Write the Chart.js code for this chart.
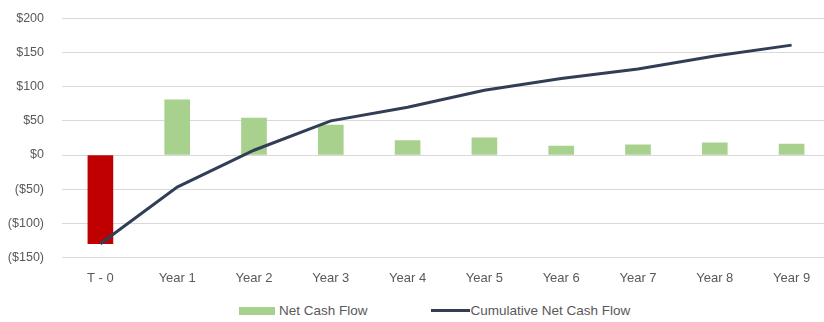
<!DOCTYPE html>
<html>
<head>
<meta charset="utf-8">
<script src="https://cdn.jsdelivr.net/npm/chart.js@4/dist/chart.umd.min.js"></script>
<style>
    html, body {
        margin: 0;
        padding: 0;
        background: #ffffff;
        overflow: hidden;
    }
    #wrap {
        position: relative;
        width: 832px;
        height: 322px;
        overflow: hidden;
    }
    #chart-box {
        position: absolute;
        left: 0;
        top: -7px;
        width: 832px;
        height: 298px;
    }
    #legend {
        position: absolute;
        left: 239px;
        top: 303px;
        display: flex;
        align-items: center;
        font-family: 'Liberation Sans', Arial, sans-serif;
        font-size: 13.5px;
        color: #595959;
        white-space: nowrap;
    }
    .legend-item {
        display: flex;
        align-items: center;
    }
    .legend-swatch {
        display: inline-block;
    }
</style>
</head>
<body>
<div id="wrap">
    <div id="chart-box"><canvas id="cash-chart"></canvas></div>
    <div id="legend"></div>
</div>
<script>
// Periods along the x axis
const periods = ['T - 0', 'Year 1', 'Year 2', 'Year 3', 'Year 4', 'Year 5', 'Year 6', 'Year 7', 'Year 8', 'Year 9'];

// Net cash flow per period ($)
const netCashFlow = [-130, 81, 54, 44, 21, 25, 13, 15, 18, 16];

// Running total ($)
const cumulativeCashFlow = [-130, -47, 7, 50, 70, 95, 112, 126, 145, 161];

// Y axis range
const yMin = -150;
const yMax = 200;
const yStep = 50;

const GREEN = '#a9d18e';
const RED = '#c00000';
const NAVY = '#323e55';
const TEXT_GRAY = '#595959';
const FONT = "'Liberation Sans', Arial, sans-serif";

function formatMoney(value) {
    if (value < 0) return '($' + Math.abs(value) + ')';
    return '$' + value;
}

const ctx = document.getElementById('cash-chart');
const cashChart = new Chart(ctx, {
    type: 'bar',
    data: {
        labels: periods,
        datasets: [
            {
                type: 'line',
                label: 'Cumulative Net Cash Flow',
                data: cumulativeCashFlow,
                borderColor: NAVY,
                backgroundColor: NAVY,
                borderWidth: 3,
                pointRadius: 0,
                tension: 0,
                fill: false,
                order: 0
            },
            {
                label: 'Net Cash Flow',
                data: netCashFlow,
                backgroundColor: netCashFlow.map(v => v < 0 ? RED : GREEN),
                borderWidth: 0,
                barThickness: 25,
                order: 1
            }
        ]
    },
    options: {
        responsive: true,
        maintainAspectRatio: false,
        animation: false,
        layout: {
            padding: { top: 11, right: 2, bottom: 0, left: 0 }
        },
        plugins: {
            legend: { display: false },
            tooltip: { enabled: false }
        },
        scales: {
            x: {
                grid: { display: false },
                border: { display: false },
                ticks: {
                    color: TEXT_GRAY,
                    padding: 5,
                    maxRotation: 0,
                    font: { family: FONT, size: 13 }
                }
            },
            y: {
                min: yMin,
                max: yMax,
                afterFit: function(scale) {
                    scale.width = 62;
                },
                grid: {
                    color: '#d9d9d9',
                    lineWidth: 1,
                    drawTicks: false
                },
                border: { display: false },
                ticks: {
                    stepSize: yStep,
                    color: TEXT_GRAY,
                    padding: 18,
                    font: { family: FONT, size: 12.5 },
                    callback: function(value) {
                        return formatMoney(value);
                    }
                }
            }
        }
    }
});

// Legend built from the chart's own datasets, bars first
function buildLegend(chart) {
    const legend = document.getElementById('legend');
    legend.innerHTML = '';
    const items = [chart.data.datasets[1], chart.data.datasets[0]];
    items.forEach((ds, i) => {
        const item = document.createElement('div');
        item.className = 'legend-item';
        const swatch = document.createElement('span');
        swatch.className = 'legend-swatch';
        if (ds.type === 'line') {
            swatch.style.width = '39px';
            swatch.style.height = '3px';
            swatch.style.background = ds.borderColor;
            swatch.style.marginRight = '1px';
        } else {
            swatch.style.width = '36px';
            swatch.style.height = '8px';
            swatch.style.background = GREEN;
            swatch.style.marginRight = '4px';
        }
        const text = document.createElement('span');
        text.textContent = ds.label;
        item.appendChild(swatch);
        item.appendChild(text);
        if (i === 0) item.style.marginRight = '63px';
        legend.appendChild(item);
    });
}

buildLegend(cashChart);
</script>
</body>
</html>
